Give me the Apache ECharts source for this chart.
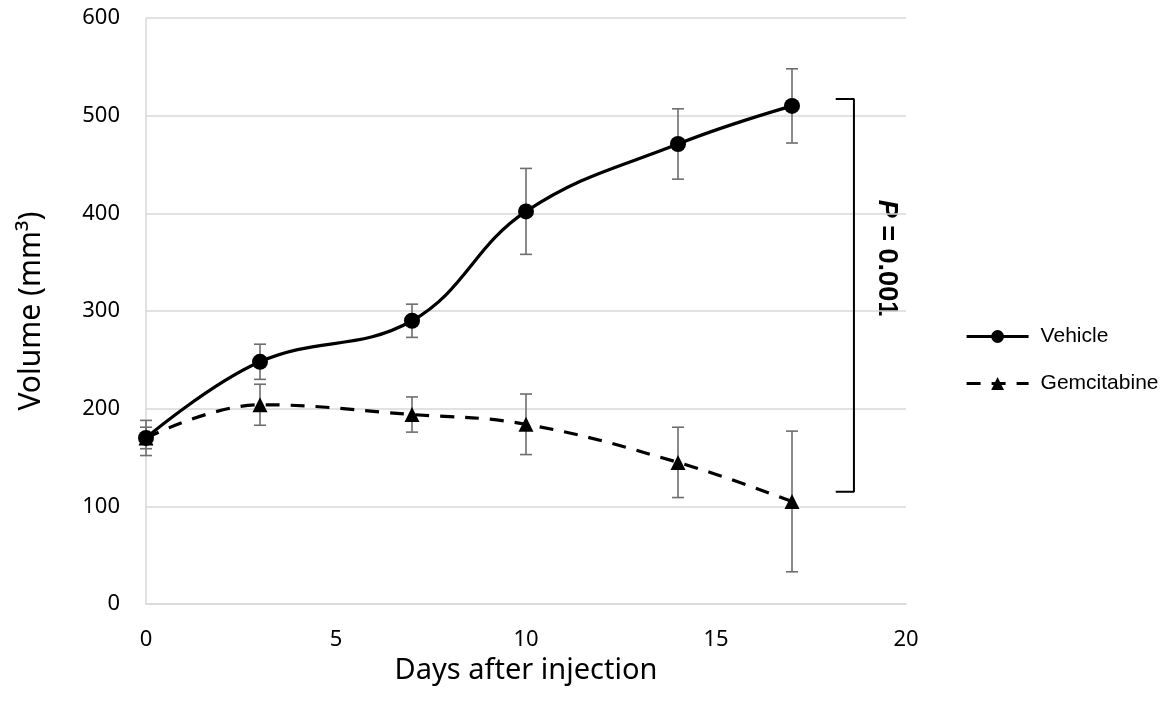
<!DOCTYPE html>
<html><head><meta charset="utf-8">
<script src="https://cdn.jsdelivr.net/npm/echarts@6/dist/echarts.min.js"></script>
<style>html,body{margin:0;padding:0;background:#fff}#c{width:1169px;height:718px}</style>
</head><body><div id="c"></div>
<script>
var days = [0, 3, 7, 10, 14, 17];
var vehicle = [170, 248, 290, 402, 471, 510];
var vehicleErr = [18, 18, 17, 44, 36, 38];
var gemcitabine = [170, 204, 194, 184, 145, 105];
var gemcitabineErr = [11, 21, 18, 31, 36, 72];
var bracketX = [18.15, 18.63];
var bracketY = [517, 115];
var pLabel = 'P';
var pValue = ' = 0.001';

var chart = echarts.init(document.getElementById('c'));
function pairs(xs, ys){ return xs.map(function(x,i){return [x, ys[i]];}); }
function errData(xs, ys, es){ return xs.map(function(x,i){return [x, ys[i]-es[i], ys[i]+es[i]];}); }
function errRender(params, api){
  var x = api.value(0);
  var lo = api.coord([x, api.value(1)]);
  var hi = api.coord([x, api.value(2)]);
  var w = 6;
  var st = {stroke:'#6e6e6e', lineWidth:1.6};
  return {type:'group', children:[
    {type:'line', shape:{x1:lo[0],y1:lo[1],x2:hi[0],y2:hi[1]}, style:st},
    {type:'line', shape:{x1:lo[0]-w,y1:lo[1],x2:lo[0]+w,y2:lo[1]}, style:st},
    {type:'line', shape:{x1:hi[0]-w,y1:hi[1],x2:hi[0]+w,y2:hi[1]}, style:st}
  ]};
}
var bracket = [[bracketX[0],bracketY[0]],[bracketX[1],bracketY[0]],[bracketX[1],bracketY[1]],[bracketX[0],bracketY[1]]];

chart.setOption({
  animation:false,
  grid:{left:146, right:263, top:18, bottom:114},
  legend:{
    orient:'vertical', left:960, top:321, itemWidth:62, itemHeight:16, itemGap:26,
    lineStyle:{width:3.2},
    textStyle:{fontFamily:'Liberation Sans', fontSize:21, color:'#000', padding:[0,0,0,7]},
    data:['Vehicle','Gemcitabine']
  },
  xAxis:{
    type:'value', min:0, max:20, interval:5,
    axisLine:{lineStyle:{color:'#d9d9d9', width:1.5}},
    axisTick:{show:false}, splitLine:{show:false},
    axisLabel:{fontFamily:'Noto Sans', fontSize:22, color:'#000', margin:25},
    name:'Days after injection', nameLocation:'middle', nameGap:50,
    nameTextStyle:{fontFamily:'Noto Sans', fontSize:29, color:'#000'}
  },
  yAxis:{
    type:'value', min:0, max:600, interval:100,
    axisLine:{show:true, lineStyle:{color:'#d9d9d9', width:1.5}},
    axisTick:{show:false},
    splitLine:{lineStyle:{color:'#d9d9d9', width:1.5}},
    axisLabel:{fontFamily:'Noto Sans', fontSize:22, color:'#000', margin:26},
    name:'Volume (mm³)', nameLocation:'middle', nameGap:100,
    nameTextStyle:{fontFamily:'Noto Sans', fontSize:30, color:'#000'}
  },
  series:[
    {type:'custom', name:'vErr', renderItem:errRender, data:errData(days, vehicle, vehicleErr), z:1, silent:true},
    {type:'custom', name:'gErr', renderItem:errRender, data:errData(days, gemcitabine, gemcitabineErr), z:1, silent:true},
    {type:'line', name:'Vehicle', data:pairs(days, vehicle), smooth:0.4,
      symbol:'circle', symbolSize:16, z:3,
      lineStyle:{color:'#000', width:3.2}, itemStyle:{color:'#000'}},
    {type:'line', name:'Gemcitabine', data:pairs(days, gemcitabine), smooth:0.4,
      symbol:'triangle', symbolSize:15, z:3,
      lineStyle:{color:'#000', width:3.2, type:[14,11]}, itemStyle:{color:'#000'}},
    {type:'line', name:'bracket', data:bracket, symbol:'none', silent:true,
      lineStyle:{color:'#000', width:2}, z:2}
  ],
  graphic:[{
    type:'text', x:886, y:258, rotation:-Math.PI/2,
    style:{
      text:'{i|' + pLabel + '}{n|' + pValue + '}',
      align:'center', verticalAlign:'middle',
      rich:{
        i:{font:'italic bold 27px "Liberation Sans"', fill:'#000'},
        n:{font:'bold 27px "Liberation Sans"', fill:'#000'}
      }
    }
  }]
});
</script></body></html>
